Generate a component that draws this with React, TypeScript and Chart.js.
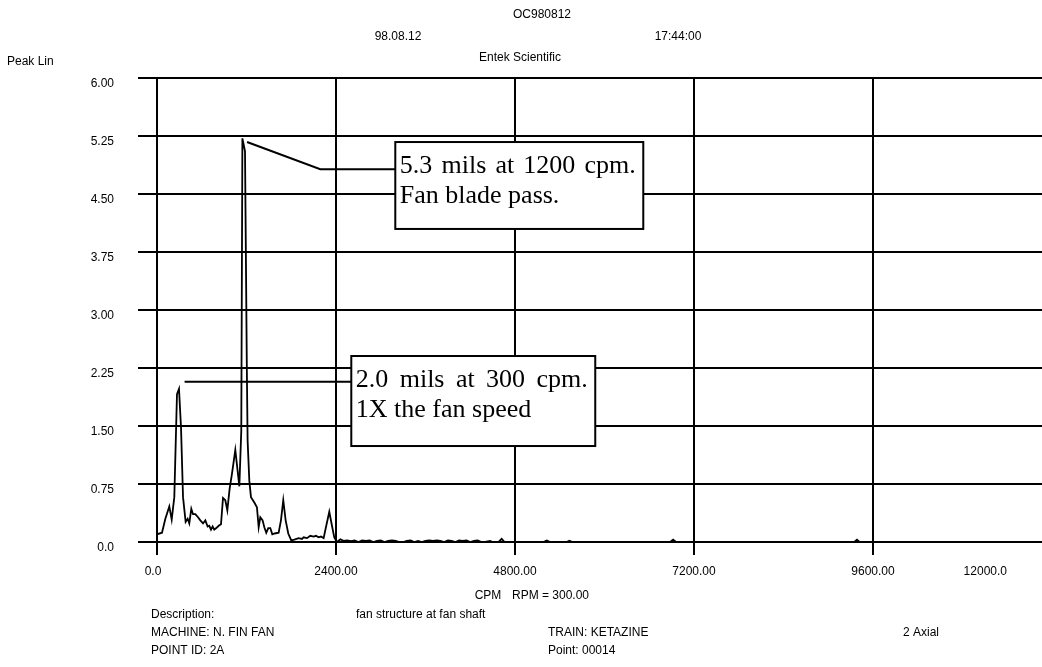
import React, { useEffect, useRef } from "react";
import { Chart, registerables } from "chart.js";
Chart.register(...registerables);

// Spectrum data: frequency (CPM) and amplitude (Peak, mils)
const CPM = [
  0, 67, 112, 165, 197, 232, 268, 295, 322, 349, 384, 411, 433, 460, 483, 514, 550, 581, 617, 648,
  679, 701, 724, 746, 768, 795, 827, 858, 885, 916, 943, 974, 1005, 1050, 1081, 1104, 1130, 1145, 1180, 1205,
  1215, 1238, 1260, 1305, 1340, 1363, 1385, 1416, 1439, 1465, 1492, 1519, 1546, 1577, 1631, 1662, 1693, 1725, 1760, 1800,
  1841, 1899, 1944, 1966, 2011, 2055, 2100, 2131, 2167, 2198, 2234, 2265, 2310, 2346, 2377, 2413, 2458, 2500, 2550, 2600,
  2650, 2700, 2750, 2800, 2850, 2900, 2950, 3000, 3050, 3100, 3150, 3200, 3250, 3300, 3350, 3400, 3450, 3500, 3550, 3600,
  3650, 3700, 3750, 3800, 3850, 3900, 3950, 4000, 4050, 4100, 4150, 4200, 4250, 4300, 4350, 4400, 4466, 4500, 4580, 4622,
  4660, 5000, 5180, 5226, 5270, 5490, 5530, 5570, 6880, 6920, 6960, 9350, 9385, 9420, 12000,
];
const AMP = [
  0.10, 0.12, 0.30, 0.46, 0.29, 0.58, 1.91, 1.98, 1.48, 0.58, 0.26, 0.30, 0.24, 0.43, 0.36, 0.36, 0.32, 0.28, 0.24, 0.28,
  0.20, 0.21, 0.16, 0.20, 0.16, 0.18, 0.21, 0.23, 0.57, 0.54, 0.41, 0.69, 0.88, 1.19, 0.92, 0.72, 1.44, 5.22, 5.05, 2.20,
  1.31, 0.79, 0.58, 0.51, 0.45, 0.19, 0.32, 0.28, 0.19, 0.12, 0.18, 0.18, 0.10, 0.11, 0.12, 0.28, 0.54, 0.28, 0.11, 0.02,
  0.03, 0.05, 0.04, 0.06, 0.05, 0.08, 0.07, 0.08, 0.06, 0.07, 0.05, 0.19, 0.39, 0.21, 0.06, 0.0, 0.035, 0.015, 0.02, 0.01,
  0.02, 0.0, 0.02, 0.015, 0.02, 0.0, 0.015, 0.02, 0.0, 0.015, 0.02, 0.015, 0.0, 0.0, 0.015, 0.02, 0.0, 0.015, 0.0, 0.015,
  0.02, 0.015, 0.02, 0.015, 0.0, 0.02, 0.015, 0.0, 0.02, 0.015, 0.02, 0.0, 0.015, 0.02, 0.0, 0.0, 0.015, 0.0, 0.0, 0.04,
  0.0, 0.0, 0.0, 0.02, 0.0, 0.0, 0.015, 0.0, 0.0, 0.03, 0.0, 0.0, 0.03, 0.0, 0.0,
];

const X_TICKS = [0, 2400, 4800, 7200, 9600, 12000];
const X_TICK_LABELS = ["0.0", "2400.00", "4800.00", "7200.00", "9600.00", "12000.0"];
const Y_TICKS = [0, 0.75, 1.5, 2.25, 3, 3.75, 4.5, 5.25, 6];
const Y_TICK_LABELS = ["0.0", "0.75", "1.50", "2.25", "3.00", "3.75", "4.50", "5.25", "6.00"];

const CALLOUT1_TEXT = ["5.3 mils at 1200 cpm.", "Fan blade pass."];
const CALLOUT2_TEXT = ["2.0 mils at 300 cpm.", "1X the fan speed"];
// callout boxes and leaders in data units [cpm, amplitude]
const CALLOUT1_BOX = [3195, 5.172, 6520, 4.048];
const CALLOUT1_LEADER = [[1207, 5.172], [2189, 4.82], [3195, 4.82]];
const CALLOUT2_BOX = [2605, 2.405, 5876, 1.241];
const CALLOUT2_LEADER = [[370, 2.073], [2605, 2.073]];

const SANS = '12px "Liberation Sans", Arial, sans-serif';
const SERIF = '26px "Liberation Serif", "Times New Roman", serif';

function drawJustified(ctx: CanvasRenderingContext2D, text: string, x0: number, x1: number, yb: number) {
  const words = text.split(" ");
  const widths = words.map((w) => ctx.measureText(w).width);
  const total = widths.reduce((a, b) => a + b, 0);
  const gap = words.length > 1 ? (x1 - x0 - total) / (words.length - 1) : 0;
  let x = x0;
  words.forEach((w, i) => {
    ctx.fillText(w, x, yb);
    x += widths[i] + gap;
  });
}

const overlay = {
  id: "overlay",
  afterDraw(chart: any) {
    const { ctx, chartArea } = chart;
    const xs = chart.scales.x;
    const ys = chart.scales.y;
    const px = (v: number) => xs.getPixelForValue(v);
    const py = (v: number) => ys.getPixelForValue(v);
    ctx.save();
    ctx.fillStyle = "#000";
    ctx.font = SANS;
    ctx.textBaseline = "middle";

    // y tick labels
    ctx.textAlign = "right";
    Y_TICKS.forEach((v, i) => ctx.fillText(Y_TICK_LABELS[i], chartArea.left - 43, py(v) + 6));
    // x tick labels
    const labelY = chartArea.bottom + 30;
    X_TICKS.forEach((v, i) => {
      if (i === X_TICKS.length - 1) {
        ctx.textAlign = "right";
        ctx.fillText(X_TICK_LABELS[i], chartArea.right - 45, labelY);
      } else {
        ctx.textAlign = "center";
        ctx.fillText(X_TICK_LABELS[i], px(v) - (i === 0 ? 4 : 0), labelY);
      }
    });

    // header texts
    ctx.textAlign = "center";
    ctx.fillText("OC980812", 542, 15);
    ctx.fillText("98.08.12", 398, 37);
    ctx.fillText("17:44:00", 678, 37);
    ctx.fillText("Entek Scientific", 520, 58);
    ctx.textAlign = "left";
    ctx.fillText("Peak Lin", 7, 62);

    // footer texts
    ctx.textAlign = "center";
    ctx.fillText("CPM", 488, 596);
    ctx.textAlign = "left";
    ctx.fillText("RPM = 300.00", 512, 596);
    ctx.fillText("Description:", 151, 615);
    ctx.fillText("fan structure at fan shaft", 356, 615);
    ctx.fillText("MACHINE: N. FIN FAN", 151, 633);
    ctx.fillText("TRAIN: KETAZINE", 548, 633);
    ctx.fillText("2 Axial", 903, 633);
    ctx.fillText("POINT ID: 2A", 151, 651);
    ctx.fillText("Point: 00014", 548, 651);

    // callouts
    const drawCallout = (box: number[], leader: number[][], lines: string[]) => {
      ctx.strokeStyle = "#000";
      ctx.lineWidth = 2;
      ctx.beginPath();
      leader.forEach((p, i) => {
        const X = px(p[0]);
        const Y = py(p[1]);
        if (i === 0) ctx.moveTo(X, Y);
        else ctx.lineTo(X, Y);
      });
      ctx.stroke();
      const l = px(box[0]);
      const t = py(box[1]);
      const r = px(box[2]);
      const b = py(box[3]);
      ctx.fillStyle = "#fff";
      ctx.fillRect(l, t, r - l, b - t);
      ctx.strokeRect(l, t, r - l, b - t);
      ctx.fillStyle = "#000";
      ctx.font = SERIF;
      ctx.textBaseline = "alphabetic";
      ctx.textAlign = "left";
      drawJustified(ctx, lines[0], l + 4.5, r - 7.5, t + 30.5);
      ctx.fillText(lines[1], l + 4.5, t + 61.3);
    };
    drawCallout(CALLOUT1_BOX, CALLOUT1_LEADER, CALLOUT1_TEXT);
    drawCallout(CALLOUT2_BOX, CALLOUT2_LEADER, CALLOUT2_TEXT);
    ctx.restore();
  },
};

export default function App() {
  const ref = useRef<HTMLCanvasElement>(null);
  useEffect(() => {
    if (!ref.current) return;
    const chart = new Chart(ref.current, {
      type: "line",
      data: {
        datasets: [
          {
            data: CPM.map((c, i) => ({ x: c, y: AMP[i] })),
            borderColor: "#000",
            borderWidth: 1.8,
            pointRadius: 0,
            tension: 0,
            fill: false,
          },
        ],
      },
      options: {
        responsive: false,
        animation: false,
        events: [],
        layout: { padding: { left: 138, top: 78, right: 0, bottom: 112 } },
        plugins: { legend: { display: false }, tooltip: { enabled: false }, title: { display: false } },
        scales: {
          x: {
            type: "linear",
            min: 0,
            max: 12000,
            afterBuildTicks: (s: any) => {
              s.ticks = X_TICKS.map((v) => ({ value: v }));
            },
            afterFit: (s: any) => {
              s.height = 13;
            },
            ticks: { display: false },
            border: { display: false },
            grid: { color: "#000", lineWidth: 2, tickLength: 13, drawTicks: true },
          },
          y: {
            type: "linear",
            min: 0,
            max: 6,
            afterBuildTicks: (s: any) => {
              s.ticks = Y_TICKS.map((v) => ({ value: v }));
            },
            afterFit: (s: any) => {
              s.width = 19;
            },
            ticks: { display: false },
            border: { display: false },
            grid: { color: "#000", lineWidth: 2, tickLength: 19, drawTicks: true },
          },
        },
      },
      plugins: [overlay],
    });
    return () => chart.destroy();
  }, []);
  return (
    <div style={{ position: "fixed", left: 0, top: 0, width: 1042, height: 667, overflow: "hidden", background: "#fff" }}>
      <canvas ref={ref} width={1052} height={667} style={{ display: "block", width: 1052, height: 667 }} />
    </div>
  );
}
